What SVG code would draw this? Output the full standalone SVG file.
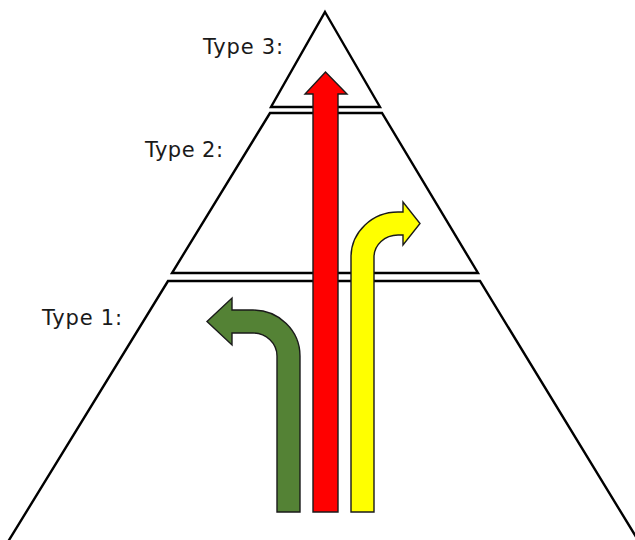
<svg xmlns="http://www.w3.org/2000/svg" width="635" height="540" viewBox="0 0 635 540">
  <style>
    .tier { fill: none; stroke: #000; stroke-width: 2.4; stroke-linejoin: miter; }
    .label { font-family: "DejaVu Sans", Verdana, sans-serif; font-size: 21px; fill: #1a1a1a; }
    .arrow { stroke: #1a1a1a; stroke-width: 1.4; stroke-linejoin: miter; }
  </style>
  <rect width="635" height="540" fill="#fff"/>

  <!-- pyramid tiers -->
  <g id="tier3">
    <polygon class="tier" points="325,12 380,107 271,107"/>
    <text class="label" x="203" y="54" textLength="80">Type 3:</text>
  </g>
  <g id="tier2">
    <polygon class="tier" points="270,113 382,113 478,273 172,273"/>
    <text class="label" x="145" y="157" textLength="78">Type 2:</text>
  </g>
  <g id="tier1">
    <polygon class="tier" points="168,281 480,281 641,545 6,545"/>
    <text class="label" x="42" y="325" textLength="80">Type 1:</text>
  </g>

  <!-- arrows -->
  <g id="connectors">
    <path id="arrow-green" class="arrow" fill="#548235"
          d="M277,512 V356 A24,23 0 0 0 253,333 H232 V345 L207,321.5 L232,298 V310 H253 A47,46 0 0 1 300,356 V512 Z"/>
    <path id="arrow-red" class="arrow" fill="#ff0000"
          d="M313,512 V94 H305 L325.5,72 L347,94 H338 V512 Z"/>
    <path id="arrow-yellow" class="arrow" fill="#ffff00"
          d="M351,512 V257 A47,45 0 0 1 398,212 H403 V202 L420,223.5 L403,245 V235 H398 A24,22 0 0 0 374,257 V512 Z"/>
  </g>
</svg>
